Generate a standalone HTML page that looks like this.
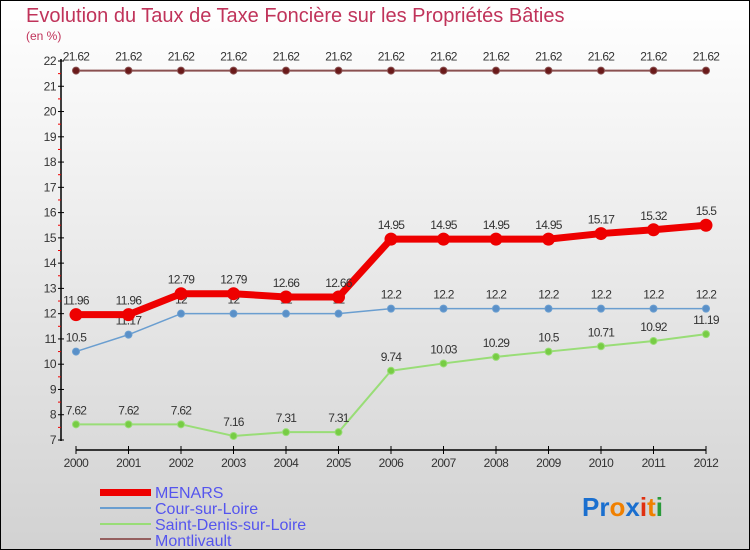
<!DOCTYPE html>
<html><head><meta charset="utf-8"><style>
html,body{margin:0;padding:0;width:750px;height:550px;overflow:hidden}
svg{display:block}
text{font-family:"Liberation Sans","DejaVu Sans",sans-serif}
</style></head><body>
<svg id="chart" width="750" height="550" viewBox="0 0 750 550">
<defs><linearGradient id="bg" x1="0" y1="0" x2="0" y2="1"><stop offset="0" stop-color="#ffffff"/><stop offset="1" stop-color="#d2d2d2"/></linearGradient></defs>
<rect x="0.5" y="0.5" width="749" height="549" fill="url(#bg)" stroke="#000"/>
<text x="26" y="22" font-size="20" fill="#c0335a">Evolution du Taux de Taxe Foncière sur les Propriétés Bâties</text>
<text x="26" y="40" font-size="12" fill="#c0335a">(en %)</text>
<g id="axes"></g><g id="series"></g>
<g>
<rect x="100" y="489" width="51" height="7" fill="#e00"/>
<text x="155" y="498" font-size="16" fill="#5555ee">MENARS</text>
<rect x="100" y="507" width="51" height="2" fill="#6a9ed0"/>
<text x="155" y="514" font-size="16" fill="#5555ee">Cour-sur-Loire</text>
<rect x="100" y="523" width="51" height="2" fill="#99dd77"/>
<text x="155" y="530" font-size="16" fill="#5555ee">Saint-Denis-sur-Loire</text>
<rect x="100" y="538" width="51" height="2" fill="#956060"/>
<text x="155" y="546" font-size="16" fill="#5555ee">Montlivault</text>
</g>
<text x="582" y="516" font-size="26" font-weight="bold"><tspan fill="#1a6fcf">Pr</tspan><tspan fill="#f08000">o</tspan><tspan fill="#1a6fcf">x</tspan><tspan fill="#e03010">i</tspan><tspan fill="#f08000">t</tspan><tspan fill="#2a9a3a">i</tspan></text>
</svg>
<script>
const years=[2000,2001,2002,2003,2004,2005,2006,2007,2008,2009,2010,2011,2012];
const yTicks=[7,8,9,10,11,12,13,14,15,16,17,18,19,20,21,22];
const menars=[11.96,11.96,12.79,12.79,12.66,12.66,14.95,14.95,14.95,14.95,15.17,15.32,15.5];
const cour=[10.5,11.17,12,12,12,12,12.2,12.2,12.2,12.2,12.2,12.2,12.2];
const saintDenis=[7.62,7.62,7.62,7.16,7.31,7.31,9.74,10.03,10.29,10.5,10.71,10.92,11.19];
const montlivault=[21.62,21.62,21.62,21.62,21.62,21.62,21.62,21.62,21.62,21.62,21.62,21.62,21.62];
const NS="http://www.w3.org/2000/svg";
const x=i=>76+i*(630/(years.length-1));
const y=v=>440-(v-7)*(379/15);
function mk(tag,attrs,parent,txt){const e=document.createElementNS(NS,tag);for(const k in attrs)e.setAttribute(k,attrs[k]);if(txt!==undefined)e.textContent=txt;parent.appendChild(e);return e;}
const ax=document.getElementById('axes');
let e=mk('line',{x1:61,y1:59,x2:61,y2:441,stroke:'#000','stroke-width':1.5},ax);


e=mk('line',{x1:76,y1:450,x2:706,y2:450,stroke:'#000','stroke-width':1.5},ax);


yTicks.forEach(t=>{
  mk('line',{x1:58,y1:y(t),x2:64,y2:y(t),stroke:'#000'},ax);
  if(t<22)mk('line',{x1:58,y1:y(t+0.5),x2:61,y2:y(t+0.5),stroke:'#e00'},ax);
  const l=mk('text',{x:56,y:y(t)+4,'font-size':12,fill:'#333','text-anchor':'end','letter-spacing':'-0.5'},ax,String(t));
  
  
});
years.forEach((yr,i)=>{
  mk('line',{x1:x(i),y1:446,x2:x(i),y2:454,stroke:'#000'},ax);
  const l=mk('text',{x:x(i),y:467,'font-size':12,fill:'#333','text-anchor':'middle','letter-spacing':'-0.5'},ax,String(yr));
  
  
});
const sg=document.getElementById('series');
function series(name,vals,color,w,r,fill){
  const g=mk('g',{},sg);
  
  
  const p=mk('polyline',{points:vals.map((v,i)=>x(i)+','+y(v)).join(' '),fill:'none',stroke:color,'stroke-width':w,'stroke-linejoin':'round'},g);
  
  
  vals.forEach((v,i)=>{
    const c=mk('circle',{cx:x(i),cy:y(v),r:r,fill:fill,stroke:color,'stroke-width':1},g);
    
    
    const t=mk('text',{x:x(i),y:y(v)-10,'font-size':12,fill:'#333','text-anchor':'middle','letter-spacing':'-0.7'},g,String(v));
    
    
  });
}
series('montlivault',montlivault,'#8a5050',2,3.5,'#6a1a1a');
series('saint-denis',saintDenis,'#99dd77',2,3.5,'#77cc44');
series('cour',cour,'#6a9ed0',1.5,3.5,'#5a90c8');
series('menars',menars,'#ee0000',7,6,'#ee0000');
</script>
</body></html>
